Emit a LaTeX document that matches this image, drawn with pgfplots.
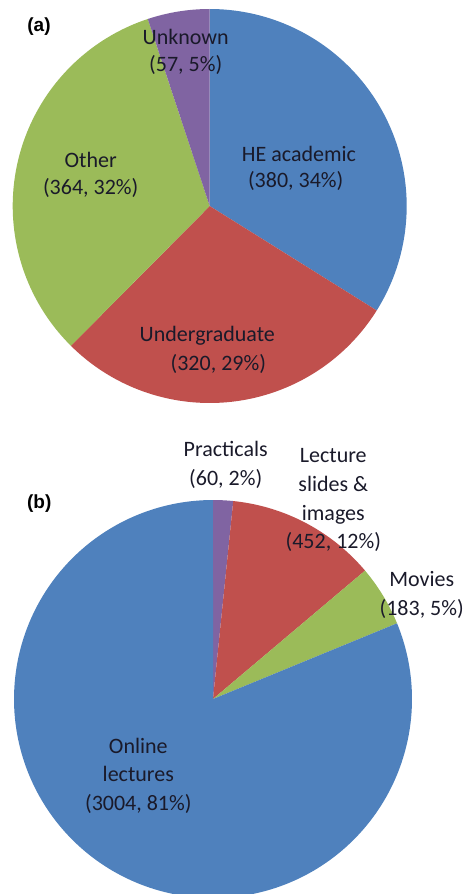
\documentclass[border=0pt]{standalone}
\usepackage{pgfplots}
\usepackage{pgfplotstable}
\pgfplotsset{compat=1.18}
\usepackage{fontspec}
\setmainfont{Carlito}
\newfontfamily\arial{Liberation Sans}
\definecolor{pieblue}{HTML}{4F81BD}
\definecolor{piered}{HTML}{C0504D}
\definecolor{piegreen}{HTML}{9BBB59}
\definecolor{piepurple}{HTML}{8064A2}
\definecolor{txt}{HTML}{1A1A2A}

\pgfplotstableread{
name value
HEacademic 380
Undergraduate 320
Other 364
Unknown 57
}\tableA
\pgfplotstableread{
name value
Practicals 60
Slides 452
Movies 183
Online 3004
}\tableB

\newcommand{\getv}[3]{\pgfplotstablegetelem{#2}{value}\of#1\let#3\pgfplotsretval}
\getv{\tableA}{0}{\Aa}\getv{\tableA}{1}{\Ab}\getv{\tableA}{2}{\Ac}\getv{\tableA}{3}{\Ad}
\getv{\tableB}{0}{\Ba}\getv{\tableB}{1}{\Bb}\getv{\tableB}{2}{\Bc}\getv{\tableB}{3}{\Bd}
\pgfmathsetmacro\At{\Aa+\Ab+\Ac+\Ad}
\pgfmathsetmacro\Ai{360*(\Aa/\At)}
\pgfmathsetmacro\Aii{360*((\Aa+\Ab)/\At)}
\pgfmathsetmacro\Aiii{360*((\Aa+\Ab+\Ac)/\At)}
\pgfmathsetmacro\Bt{\Ba+\Bb+\Bc+\Bd}
\pgfmathsetmacro\Bi{360*(\Ba/\Bt)}
\pgfmathsetmacro\Bii{360*((\Ba+\Bb)/\Bt)}
\pgfmathsetmacro\Biii{360*((\Ba+\Bb+\Bc)/\Bt)}
\def\cxa{209.7}\def\cya{206}\def\ra{197}
\def\cxb{213}\def\cyb{699}\def\rb{199}

\begin{document}%
\begin{tikzpicture}
\begin{axis}[
  hide axis, scale only axis,
  width=472bp, height=894bp,
  xmin=0, xmax=472, ymin=0, ymax=894, y dir=reverse,
  clip=true,
  every axis plot/.append style={draw=none, samples=90, variable=\t},
]
% pie (a)
\addplot[fill=pieblue, domain=0:\Ai] ({\cxa+\ra*sin(\t)},{\cya-\ra*cos(\t)}) -- (axis cs:\cxa,\cya) -- cycle;
\addplot[fill=piered, domain=\Ai:\Aii] ({\cxa+\ra*sin(\t)},{\cya-\ra*cos(\t)}) -- (axis cs:\cxa,\cya) -- cycle;
\addplot[fill=piegreen, domain=\Aii:\Aiii] ({\cxa+\ra*sin(\t)},{\cya-\ra*cos(\t)}) -- (axis cs:\cxa,\cya) -- cycle;
\addplot[fill=piepurple, domain=\Aiii:360] ({\cxa+\ra*sin(\t)},{\cya-\ra*cos(\t)}) -- (axis cs:\cxa,\cya) -- cycle;
% pie (b)
\addplot[fill=piepurple, domain=0:\Bi, samples=10] ({\cxb+\rb*sin(\t)},{\cyb-\rb*cos(\t)}) -- (axis cs:\cxb,\cyb) -- cycle;
\addplot[fill=piered, domain=\Bi:\Bii] ({\cxb+\rb*sin(\t)},{\cyb-\rb*cos(\t)}) -- (axis cs:\cxb,\cyb) -- cycle;
\addplot[fill=piegreen, domain=\Bii:\Biii] ({\cxb+\rb*sin(\t)},{\cyb-\rb*cos(\t)}) -- (axis cs:\cxb,\cyb) -- cycle;
\addplot[fill=pieblue, domain=\Biii:360, samples=200] ({\cxb+\rb*sin(\t)},{\cyb-\rb*cos(\t)}) -- (axis cs:\cxb,\cyb) -- cycle;

\begin{scope}[every node/.style={anchor=base, inner sep=0pt, text=txt, font=\fontsize{22bp}{26bp}\selectfont}]
\node at (axis cs:185.7,45) {Unknown};
\node at (axis cs:185.7,71.5) {(57, 5\%)};
\node at (axis cs:299,161.7) {HE academic};
\node at (axis cs:295.7,187.5) {(380, 34\%)};
\node at (axis cs:90.7,167.7) {Other};
\node at (axis cs:90.7,195) {(364, 32\%)};
\node at (axis cs:207.3,341.7) {Undergraduate};
\node at (axis cs:218.3,370) {(320, 29\%)};
% (b)
\node at (axis cs:225.7,456) {Practicals};
\node at (axis cs:225.7,485) {(60, 2\%)};
\node at (axis cs:333.3,462.7) {Lecture};
\node at (axis cs:333.3,491.7) {slides \&};
\node at (axis cs:333.3,520) {images};
\node at (axis cs:333.3,548.3) {(452, 12\%)};
\node at (axis cs:421.7,586.7) {Movies};
\node at (axis cs:421.7,615) {(183, 5\%)};
\node at (axis cs:138.3,753.3) {Online};
\node at (axis cs:138.3,781.7) {lectures};
\node at (axis cs:138.3,810) {(3004, 81\%)};
\end{scope}
\node[anchor=base, inner sep=0pt, font=\arial\bfseries\fontsize{19bp}{22bp}\selectfont] at (axis cs:39,31.7) {(a)};
\node[anchor=base, inner sep=0pt, font=\arial\bfseries\fontsize{19bp}{22bp}\selectfont] at (axis cs:39.3,508.3) {(b)};
\end{axis}
\pgfresetboundingbox
\path[use as bounding box] (current axis.south west) rectangle (current axis.north east);
\end{tikzpicture}%
\end{document}
